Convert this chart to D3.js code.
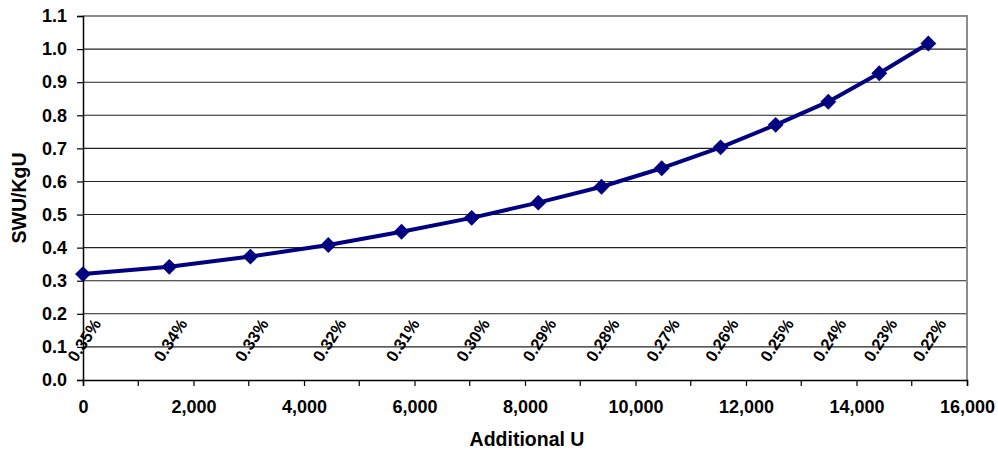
<!DOCTYPE html>
<html>
<head>
<meta charset="utf-8">
<script src="https://cdn.jsdelivr.net/npm/d3@7"></script>
<style>
  html, body { margin: 0; padding: 0; background: #fff; }
  svg { display: block; font-family: Arial, "Liberation Sans", sans-serif; }
</style>
</head>
<body>
<svg id="chart" width="998" height="451"></svg>
<script>
// Additional uranium recovered vs. separative work per kg of uranium,
// each point annotated with its tails assay.
const additionalU = [0, 1562, 3030, 4440, 5765, 7035, 8240, 9385, 10475, 11540, 12537, 13490, 14412, 15300];
const swuPerKgU   = [0.320, 0.342, 0.373, 0.408, 0.448, 0.490, 0.536, 0.584, 0.640, 0.703, 0.771, 0.841, 0.927, 1.017];
const tailsLabels = ["0.35%", "0.34%", "0.33%", "0.32%", "0.31%", "0.30%", "0.29%", "0.28%", "0.27%", "0.26%", "0.25%", "0.24%", "0.23%", "0.22%"];
const xTicks = [0, 2000, 4000, 6000, 8000, 10000, 12000, 14000, 16000];
const xMinorTicks = [1000, 3000, 5000, 7000, 9000, 11000, 13000, 15000];
const yTicks = [0, 0.1, 0.2, 0.3, 0.4, 0.5, 0.6, 0.7, 0.8, 0.9, 1.0, 1.1];

const svg = d3.select("#chart");
const plotLeft = 83, plotRight = 967, plotTop = 16, plotBottom = 380;

const x = d3.scaleLinear().domain([0, 16000]).range([plotLeft, plotRight]);
const y = d3.scaleLinear().domain([0, 1.1]).range([plotBottom, plotTop]);

// Horizontal gridlines
svg.append("g")
  .selectAll("line")
  .data(yTicks.filter(v => v > 0 && v < 1.1))
  .join("line")
  .attr("x1", plotLeft).attr("x2", plotRight)
  .attr("y1", d => y(d)).attr("y2", d => y(d))
  .attr("stroke", "#222").attr("stroke-width", 1.1);

// Plot area frame (top and right)
svg.append("path")
  .attr("d", `M${plotLeft},${plotTop}H${plotRight}V${plotBottom}`)
  .attr("fill", "none").attr("stroke", "#8c8c8c").attr("stroke-width", 2);

// Y axis
const yAxis = d3.axisLeft(y).tickValues(yTicks).tickFormat(d3.format(".1f")).tickSize(6).tickPadding(10);
const gy = svg.append("g").attr("transform", `translate(${plotLeft},0)`).call(yAxis);
gy.select(".domain").attr("stroke", "#000").attr("stroke-width", 1.5);
gy.selectAll(".tick line").attr("stroke", "#000").attr("stroke-width", 1.2);
gy.selectAll(".tick text").attr("font-size", 18).attr("font-weight", "bold").attr("fill", "#000");

// X axis with minor ticks between labelled ones
const xAxis = d3.axisBottom(x).tickValues(xTicks).tickFormat(d3.format(",")).tickSize(6).tickPadding(14);
const gx = svg.append("g").attr("transform", `translate(0,${plotBottom})`).call(xAxis);
gx.select(".domain").attr("stroke", "#000").attr("stroke-width", 1.5);
gx.selectAll(".tick line").attr("stroke", "#000").attr("stroke-width", 1.2);
gx.selectAll(".tick text").attr("font-size", 18).attr("font-weight", "bold").attr("fill", "#000");
gx.append("g")
  .selectAll("line")
  .data(xMinorTicks)
  .join("line")
  .attr("x1", d => x(d)).attr("x2", d => x(d))
  .attr("y1", 0).attr("y2", 6)
  .attr("stroke", "#000").attr("stroke-width", 1.2);

// Axis titles
svg.append("text")
  .attr("x", (plotLeft + plotRight) / 2 + 2).attr("y", 446)
  .attr("text-anchor", "middle")
  .attr("font-size", 19.5).attr("font-weight", "bold")
  .text("Additional U");

svg.append("text")
  .attr("transform", `translate(26,${(plotTop + plotBottom) / 2}) rotate(-90)`)
  .attr("text-anchor", "middle")
  .attr("font-size", 19.5).attr("font-weight", "bold")
  .text("SWU/KgU");

const points = additionalU.map((u, i) => ({ u, v: swuPerKgU[i], label: tailsLabels[i] }));

// Tails assay annotations
svg.append("g")
  .selectAll("text")
  .data(points)
  .join("text")
  .attr("transform", d => `translate(${x(d.u) + 1},340) rotate(-57)`)
  .attr("text-anchor", "middle")
  .attr("dominant-baseline", "central")
  .attr("font-size", 16.5).attr("font-weight", "bold").attr("fill", "#000")
  .text(d => d.label);

// Series line
svg.append("path")
  .datum(points)
  .attr("fill", "none")
  .attr("stroke", "#000080")
  .attr("stroke-width", 4)
  .attr("stroke-linejoin", "round")
  .attr("d", d3.line().x(d => x(d.u)).y(d => y(d.v)));

// Diamond markers
const diamond = d3.symbol().type(d3.symbolDiamond2).size(160);
svg.append("g")
  .selectAll("path")
  .data(points)
  .join("path")
  .attr("transform", d => `translate(${x(d.u)},${y(d.v)})`)
  .attr("d", diamond)
  .attr("fill", "#000080");
</script>
</body>
</html>
